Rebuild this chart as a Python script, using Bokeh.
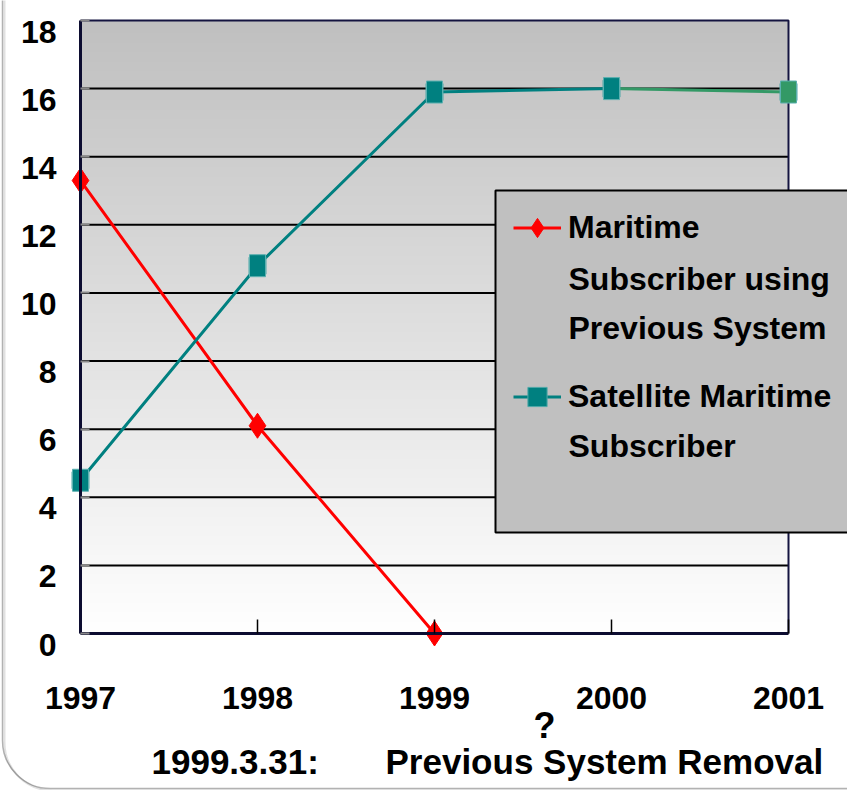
import numpy as np
from bokeh.plotting import figure
from bokeh.models import (Range1d, FixedTicker, Legend, LegendItem, Label,
                          BoxAnnotation, ColumnDataSource)
from bokeh.embed import file_html
from bokeh.resources import INLINE
from bokeh.core.properties import value

# ---- data ----
years = [1997, 1998, 1999, 2000, 2001]
prev_years = [1997, 1998, 1999]
prev_values = [13.3, 6.1, 0.0]
sat_values = [4.5, 10.8, 15.9, 16.0, 15.9]
sat_colors = ["#008080", "#008080", "#008080", "#008080", "#339966"]
y_ticks = [0, 2, 4, 6, 8, 10, 12, 14, 16, 18]
y_tick_labels = ["0", "2", "4", "6", "8", "10", "12", "14", "16", "18"]
prev_label_lines = ["Maritime", "Subscriber using", "Previous System"]
sat_label_lines = ["Satellite Maritime", "Subscriber"]
note_mark = "?"
note_date = "1999.3.31:"
note_text = "Previous System Removal"

FONT = "Liberation Sans"

# ---- geometry (pixels) ----
W, H = 847, 790
PL, PR, PT, PB = 80, 788, 20, 633   # plot-area edges on the canvas

x0, x1 = years[0], years[-1]
y0, y1 = y_ticks[0], y_ticks[-1]
xs = (x1 - x0) / (PR - PL)
ys = (y1 - y0) / (PB - PT)
x_range = Range1d(x0 - PL * xs, x1 + (W - PR) * xs)
y_range = Range1d(y0 - (H - PB) * ys, y1 + PT * ys)

p = figure(width=W, height=H, x_range=x_range, y_range=y_range,
           output_backend="svg", toolbar_location=None,
           min_border_left=0, min_border_right=0, min_border_top=0, min_border_bottom=0,
           background_fill_color="white", border_fill_color="white")
p.outline_line_color = None

# gradient background of the plot area
n = 256
img = np.empty((n, 1, 4), dtype=np.uint8)
shade = np.linspace(255, 192, n).astype(np.uint8)
img[:, 0, 0] = shade
img[:, 0, 1] = shade
img[:, 0, 2] = shade
img[:, 0, 3] = 255
p.image_rgba(image=[img.view(np.uint32).reshape(n, 1)], x=x0, y=y0, dw=x1 - x0, dh=y1 - y0,
             level="image")

# horizontal grid lines and plot-area border (top, right)
gt = y_ticks[1:-1]
p.segment(x0=[x0] * len(gt), x1=[x1] * len(gt), y0=gt, y1=gt, line_color="black", line_width=2)
p.line([x0, x1, x1], [y1, y1, y0], line_color="#141440", line_width=2)

p.xgrid.grid_line_color = None
p.ygrid.grid_line_color = None

# series
r_prev_line = p.line(prev_years, prev_values, line_color="#ff0000", line_width=3)
r_prev_pts = p.scatter(prev_years, prev_values, marker="diamond", size=25,
                       fill_color="#ff0000", line_color="#ff0000")

r_sat_line = p.line(years[:4], sat_values[:4], line_color="#008080", line_width=3)
r_sat_line2 = p.line(years[3:], sat_values[3:], line_color="#339966", line_width=3)
src = ColumnDataSource(dict(x=years, y=sat_values, c=sat_colors))
r_sat_sq = p.scatter("x", "y", source=src, marker="square", size=17,
                     fill_color="#008080", line_color="#4fa8a8", line_width=1)
p.rect("x", "y", source=src, width=16, height=22, width_units="screen", height_units="screen",
       fill_color="c", line_color="#5cb0b0", line_width=1)

# axes placed at the data origin
p.xaxis.fixed_location = y0
p.yaxis.fixed_location = x0
p.xaxis.bounds = (x0, x1)
p.yaxis.bounds = (y0, y1)
p.xaxis.ticker = FixedTicker(ticks=years)
p.yaxis.ticker = FixedTicker(ticks=y_ticks)
for ax in (p.xaxis[0], p.yaxis[0]):
    ax.axis_line_color = "#0c0c30"
    ax.axis_line_width = 3
    ax.minor_tick_line_color = None
    ax.major_tick_out = 0
    ax.major_label_text_font = FONT
    ax.major_label_text_font_size = "32px"
    ax.major_label_text_font_style = "bold"
    ax.major_label_text_color = "black"
p.xaxis.major_tick_in = 14
p.xaxis.major_tick_line_color = "black"
p.xaxis.major_tick_line_width = 1.5
p.xaxis.major_label_standoff = 53
p.yaxis.major_tick_in = 9
p.yaxis.major_tick_line_color = "#8a8a8a"
p.yaxis.major_tick_line_width = 2
p.yaxis.major_label_overrides = {t: "" for t in y_ticks}

# y tick labels (sit just below their grid lines, as in the original)
p.text(x=[x0] * len(y_ticks), y=y_ticks, text=y_tick_labels, x_offset=-24,
       text_align="right", text_baseline="top", text_font=value(FONT),
       text_font_size="32px", text_font_style="bold", text_color="black")

# rounded slide frame with a soft shadow
p.add_layout(BoxAnnotation(left=4, right=W + 60, top=H + 60, bottom=0,
                           left_units="screen", right_units="screen",
                           top_units="screen", bottom_units="screen",
                           fill_alpha=0, line_color="#9a9a9a", line_width=2,
                           border_radius=48))
p.add_layout(BoxAnnotation(left=2, right=W + 60, top=H + 60, bottom=2,
                           left_units="screen", right_units="screen",
                           top_units="screen", bottom_units="screen",
                           fill_alpha=0, line_color="black", line_width=1.5,
                           border_radius=48))

# legend box
p.add_layout(BoxAnnotation(left=495, right=W + 60, top=H - 190, bottom=H - 532,
                           left_units="screen", right_units="screen",
                           top_units="screen", bottom_units="screen",
                           fill_color="#c0c0c0", fill_alpha=1,
                           line_color="black", line_width=2, line_alpha=1))

LEG_FS = "32px"
legend = Legend(items=[LegendItem(label=prev_label_lines[0], renderers=[r_prev_line, r_prev_pts]),
                       LegendItem(label=sat_label_lines[0], renderers=[r_sat_line, r_sat_sq])],
                location=(495, H - 438.5), background_fill_alpha=0, border_line_alpha=0,
                padding=18, spacing=120, glyph_width=48, glyph_height=49, label_height=49,
                label_standoff=7, label_text_font=FONT, label_text_font_size=LEG_FS,
                label_text_font_style="bold", label_text_color="black")
p.add_layout(legend)

# continuation lines of the legend labels
for txt, py in [(prev_label_lines[1], 278), (prev_label_lines[2], 327), (sat_label_lines[1], 445)]:
    p.add_layout(Label(x=568, y=H - py, x_units="screen", y_units="screen", text=txt,
                       text_align="left", text_baseline="middle", text_font=FONT,
                       text_font_size=LEG_FS, text_font_style="bold", text_color="black"))

# notes under the axis
p.add_layout(Label(x=544, y=H - 725, x_units="screen", y_units="screen", text=note_mark,
                   text_align="center", text_baseline="middle", text_font=FONT,
                   text_font_size="36px", text_font_style="bold", text_color="black"))
p.add_layout(Label(x=151, y=H - 761, x_units="screen", y_units="screen", text=note_date,
                   text_align="left", text_baseline="middle", text_font=FONT,
                   text_font_size="35px", text_font_style="bold", text_color="black"))
p.add_layout(Label(x=385, y=H - 761, x_units="screen", y_units="screen", text=note_text,
                   text_align="left", text_baseline="middle", text_font=FONT,
                   text_font_size="35px", text_font_style="bold", text_color="black"))

open("out.html", "w").write(file_html(p, INLINE))
